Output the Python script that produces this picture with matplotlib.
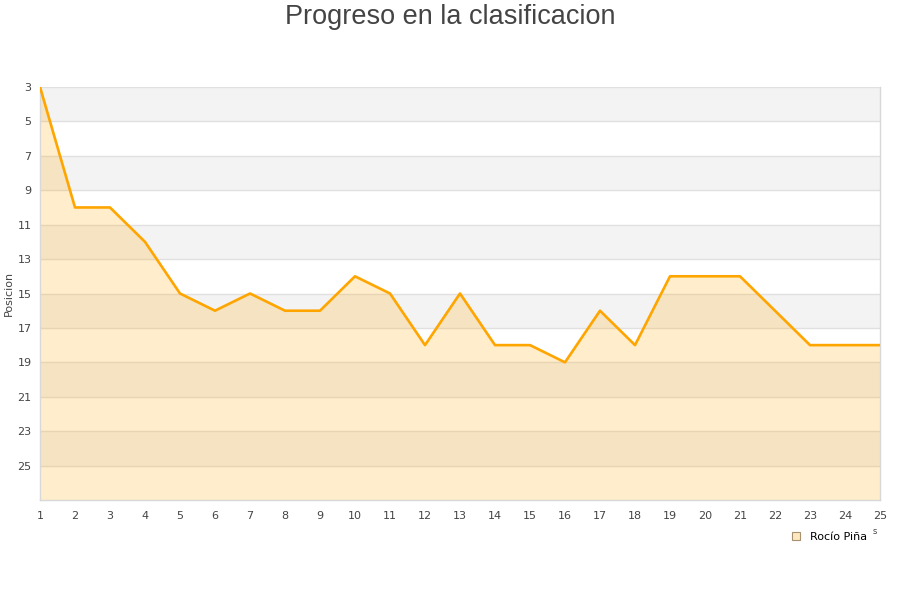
import matplotlib
matplotlib.use("Agg")
import matplotlib.pyplot as plt
from matplotlib.lines import Line2D

jornadas = list(range(1, 26))
posicion = [3, 10, 10, 12, 15, 16, 15, 16, 16, 14, 15, 18, 15, 18, 18, 19, 16, 18, 14, 14, 14, 16, 18, 18, 18]
yticks = list(range(3, 27, 2))
player = "Rocío Piña"

fig = plt.figure(figsize=(9, 6), dpi=100)
ax = fig.add_axes([40/900, 1-500/600, 840/900, 413/600])

ymin, ymax = 3, 27
# alternating bands
for i, y0 in enumerate(range(3, 27, 2)):
    if i % 2 == 0:
        ax.axhspan(y0, y0 + 2, color="#f3f3f3", zorder=0, lw=0)
for y in yticks:
    ax.axhline(y, color="#e0e0e0", lw=1, zorder=1)

ax.fill_between(jornadas, posicion, ymax, color="#ffa500", alpha=0.2, lw=0, zorder=2)
ax.plot(jornadas, posicion, color="#ffa500", lw=1.9, zorder=3)

ax.set_xlim(1, 25)
ax.set_ylim(ymax, ymin)
ax.set_xticks(jornadas)
ax.set_yticks(yticks)
ax.tick_params(axis="both", length=0, labelsize=8, colors="#444444", pad=8)
ax.tick_params(axis="y", pad=6)
for s in ax.spines.values():
    s.set_color("#d8d8d8")
    s.set_linewidth(1)
ax.spines["top"].set_visible(False)

ax.set_ylabel("")
fig.text(9/900, 1-293/600, "Posicion", rotation=90, fontsize=8, color="#444444",
         ha="center", va="center")
fig.text(0.5, 1-17/600, "Progreso en la clasificacion", ha="center", va="center",
         fontsize=19.5, color="#444444", family="Liberation Sans")
fig.text(875/900, 1-532/600, "s", fontsize=6, color="#444444", ha="center", va="center")

handle = Line2D([], [], marker="s", linestyle="none", markersize=6,
                markerfacecolor="#ffe8c0", markeredgecolor="#a89070", markeredgewidth=0.8)
fig.legend([handle], [player], loc="center", bbox_to_anchor=(826/900, 1-537/600),
           frameon=False, fontsize=8, handletextpad=0.3, borderaxespad=0)

fig.savefig("out.png", dpi=100)
